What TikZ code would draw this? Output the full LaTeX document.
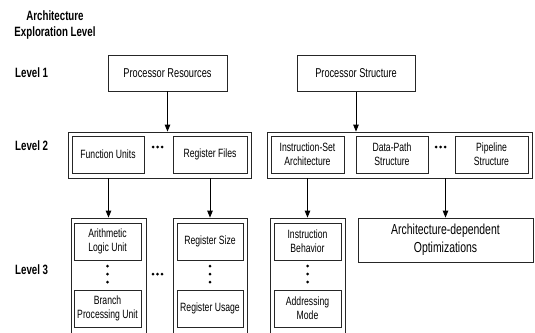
\documentclass[tikz,border=0pt]{standalone}
\usepackage{fontspec}
\setmainfont{Liberation Sans}[FakeStretch=0.72]
\usetikzlibrary{arrows.meta}
\tikzset{
  box/.style={draw=black!85, line width=0.8pt, inner sep=0pt, align=center, font=\fontsize{12}{14}\selectfont},
  bigbox/.style={box, font=\fontsize{12.8}{15}\selectfont},
  outer/.style={draw=black!85, line width=0.8pt, inner sep=0pt},
  lbl/.style={font=\bfseries\fontsize{13.5}{16}\selectfont, inner sep=0pt, align=center},
  arr/.style={line width=0.9pt, -{Triangle[length=7pt,width=5.5pt]}},
  dotc/.style={fill=black, circle, inner sep=0pt, minimum size=3pt}
}
\begin{document}
\begin{tikzpicture}[x=1pt,y=-1pt]
\useasboundingbox (0,0) rectangle (535,332);
\clip (0,0) rectangle (535,332);
% labels
\node[lbl] (title) at (55,25) {Architecture\\Exploration Level};
\node[lbl, anchor=west] (lv1) at (15,73) {Level 1};
\node[lbl, anchor=west] (lv2) at (15,146) {Level 2};
\node[lbl, anchor=west] (lv3) at (15,270) {Level 3};
% level 1
\node[bigbox, minimum width=119pt, minimum height=36pt] (pr) at (167.5,73) {Processor Resources};
\node[bigbox, minimum width=118pt, minimum height=36pt] (ps) at (356,73.5) {Processor Structure};
% level 2
\node[outer, minimum width=183pt, minimum height=46pt] (l2a) at (159.5,155) {};
\node[box, minimum width=72pt, minimum height=37pt] (fu) at (108,154.5) {Function Units};
\node[box, minimum width=74pt, minimum height=37pt] (rf) at (210,154.5) {Register Files};
\node[dotc] (d1a) at (153,147) {};
\node[dotc] (d1b) at (157.5,147) {};
\node[dotc] (d1c) at (162,147) {};
\node[outer, minimum width=265pt, minimum height=46pt] (l2b) at (400,155) {};
\node[box, minimum width=73pt, minimum height=37pt] (isa) at (307.5,154.5) {Instruction-Set\\Architecture};
\node[box, minimum width=72pt, minimum height=37pt] (dp) at (392,154.5) {Data-Path\\Structure};
\node[box, minimum width=73pt, minimum height=37pt] (pl) at (491.5,154.5) {Pipeline\\Structure};
\node[dotc] (d2a) at (436,147) {};
\node[dotc] (d2b) at (440.5,147) {};
\node[dotc] (d2c) at (445,147) {};
% level 3
\node[outer, minimum width=75pt, minimum height=122pt] (l3a) at (108.5,279) {};
\node[box, minimum width=67pt, minimum height=37pt] (alu) at (107.5,241.5) {Arithmetic\\Logic Unit};
\node[box, minimum width=67pt, minimum height=37pt] (bpu) at (107.5,308.5) {Branch\\Processing Unit};
\node[dotc] (v1a) at (107.5,266) {};
\node[dotc] (v1b) at (107.5,274) {};
\node[dotc] (v1c) at (107.5,282) {};
\node[outer, minimum width=74pt, minimum height=122pt] (l3b) at (210,279) {};
\node[box, minimum width=66pt, minimum height=37pt] (rs) at (210,241.5) {Register Size};
\node[box, minimum width=66pt, minimum height=37pt] (ru) at (210,308.5) {Register Usage};
\node[dotc] (v2a) at (210,266) {};
\node[dotc] (v2b) at (210,274) {};
\node[dotc] (v2c) at (210,282) {};
\node[dotc] (d3a) at (153,274) {};
\node[dotc] (d3b) at (157.5,274) {};
\node[dotc] (d3c) at (162,274) {};
\node[outer, minimum width=75pt, minimum height=122pt] (l3c) at (307.5,279) {};
\node[box, minimum width=67pt, minimum height=37pt] (ib) at (307.5,241.5) {Instruction\\Behavior};
\node[box, minimum width=67pt, minimum height=37pt] (am) at (307.5,308.5) {Addressing\\Mode};
\node[dotc] (v3a) at (307.5,266) {};
\node[dotc] (v3b) at (307.5,274) {};
\node[dotc] (v3c) at (307.5,282) {};
\node[box, font=\fontsize{14.5}{18}\selectfont, minimum width=175pt, minimum height=44pt] (ado) at (445.5,240) {Architecture-dependent\\Optimizations};
% arrows
\draw[arr] (pr) -- (pr.south |- l2a.north);
\draw[arr] (ps) -- (ps.south |- l2b.north);
\draw[arr] (l3a.north |- l2a.south) -- (l3a.north);
\draw[arr] (l3b.north |- l2a.south) -- (l3b.north);
\draw[arr] (l3c.north |- l2b.south) -- (l3c.north);
\draw[arr] (ado.north |- l2b.south) -- (ado.north);
\end{tikzpicture}
\end{document}
